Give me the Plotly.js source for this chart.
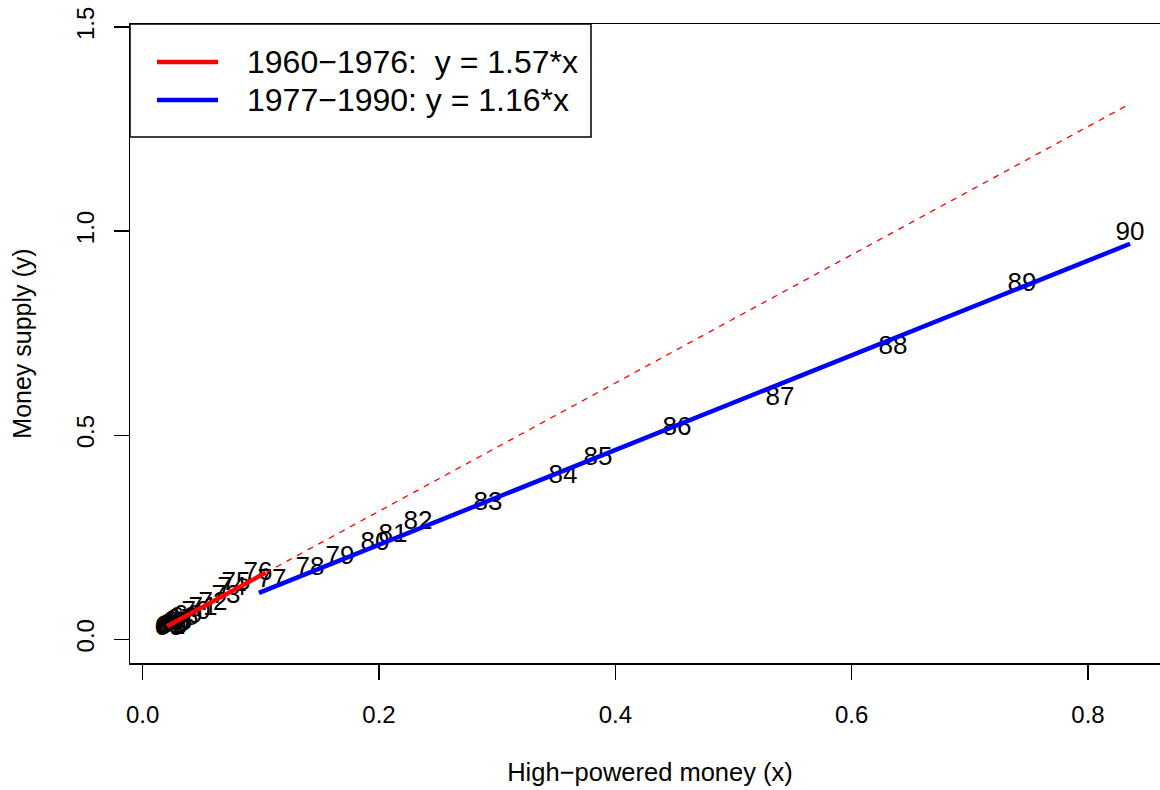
<!DOCTYPE html>
<html>
<head>
<meta charset="utf-8">
<script src="https://cdn.plot.ly/plotly-3.0.1.min.js"></script>
<style>
html,body{margin:0;padding:0;background:#fff;overflow:hidden;}
#chart{width:1170px;height:790px;}
</style>
</head>
<body>
<div id="chart"></div>
<script>
// Year labels (19xx)
const yearLabels = ['60','61','62','63','64','65','66','67','68','69','70','71','72','73','74','75','76','77','78','79','80','81','82','83','84','85','86','87','88','89','90'];
// High-powered money (x)
const highPowered = [0.0222,0.0231,0.0239,0.0248,0.0265,0.0282,0.0299,0.0324,0.0350,0.0383,0.0451,0.0510,0.0595,0.0705,0.0756,0.0790,0.0976,0.1094,0.1416,0.1670,0.1966,0.2118,0.2330,0.2922,0.3557,0.3853,0.4522,0.5394,0.6350,0.7442,0.8356];
// Money supply (y)
const moneySupply = [0.027,0.029,0.029,0.032,0.034,0.037,0.042,0.047,0.051,0.056,0.066,0.076,0.088,0.105,0.125,0.137,0.162,0.145,0.174,0.201,0.235,0.255,0.287,0.333,0.400,0.444,0.517,0.591,0.716,0.870,0.995];

// Fitted lines (endpoints)
const fit1960X = [0.0206, 0.104];
const fit1960Y = [0.032, 0.163];
const fit1977X = [0.0984, 0.8356];
const fit1977Y = [0.114, 0.969];
const ext1960X = [0.104, 0.8356];
const ext1960Y = [0.163, 1.312];

const legendTexts = ['1960\u22121976:\u00a0 y = 1.57*x', '1977\u22121990: y = 1.16*x'];
const legendColors = ['#ff0000', '#0000ff'];

const FONT = 'Liberation Sans, Arial, Helvetica, sans-serif';

const traces = [
  {x: highPowered, y: moneySupply, text: yearLabels, mode: 'text', type: 'scatter',
   textposition: 'middle center', textfont: {family: FONT, size: 26, color: '#000'},
   showlegend: false, hoverinfo: 'x+y+text', cliponaxis: false},
  {x: ext1960X, y: ext1960Y, mode: 'lines', type: 'scatter',
   line: {color: '#ff0000', width: 1.3, dash: '6px,6px'}, showlegend: false},
  {x: fit1960X, y: fit1960Y, mode: 'lines', type: 'scatter',
   line: {color: '#ff0000', width: 4.5}, showlegend: false},
  {x: fit1977X, y: fit1977Y, mode: 'lines', type: 'scatter',
   line: {color: '#0000ff', width: 4.5}, showlegend: false}
];

// plot area in px: left 130, top 24, width 1040, height 638.7
const L = 130, T = 24, W = 1040, H = 638.7;
const px = v => (v - L) / W;
const py = v => 1 - (v - T) / H;

const shapes = [
  {type: 'rect', xref: 'paper', yref: 'paper', x0: 0, x1: px(591), y0: py(137), y1: 1,
   line: {color: '#000', width: 1.5}, fillcolor: '#fff', layer: 'above'}
];
const annotations = [];
const rowsY = [62, 100];
legendTexts.forEach((t, i) => {
  shapes.push({type: 'line', xref: 'paper', yref: 'paper', x0: px(157), x1: px(218),
    y0: py(rowsY[i]), y1: py(rowsY[i]), line: {color: legendColors[i], width: 4.5}, layer: 'above'});
  annotations.push({xref: 'paper', yref: 'paper', x: px(245), y: py(rowsY[i]), text: t,
    showarrow: false, xanchor: 'left', yanchor: 'middle',
    font: {family: FONT, size: 32, color: '#000'}});
});

const layout = {
  width: 1170, height: 790,
  margin: {l: 130, r: 0, t: 24, b: 127.3, pad: 0},
  paper_bgcolor: '#fff', plot_bgcolor: '#fff',
  font: {family: FONT, color: '#000'},
  xaxis: {
    range: [-0.0107, 0.8694], tickvals: [0, 0.2, 0.4, 0.6, 0.8], ticktext: ['0.0','0.2','0.4','0.6','0.8'],
    showgrid: false, zeroline: false, showline: true, mirror: true, linecolor: '#000', linewidth: 1.5,
    ticks: 'outside', ticklen: 15, tickwidth: 1.3, tickcolor: '#000',
    tickfont: {family: FONT, size: 24, color: '#000'}, ticklabelstandoff: 15,
    title: {text: 'High\u2212powered money (x)', font: {family: FONT, size: 25.5, color: '#000'}, standoff: 36}
  },
  yaxis: {
    range: [-0.058, 1.5074], tickvals: [0, 0.5, 1, 1.5], ticktext: ['0.0','0.5','1.0','1.5'],
    showgrid: false, zeroline: false, showline: true, mirror: true, linecolor: '#000', linewidth: 1.5,
    ticks: 'outside', ticklen: 15, tickwidth: 1.3, tickcolor: '#000', tickangle: -90,
    tickfont: {family: FONT, size: 24, color: '#000'}, ticklabelstandoff: 10,
    title: {text: 'Money supply (y)', font: {family: FONT, size: 25, color: '#000'}, standoff: 33}
  },
  shapes: shapes,
  annotations: annotations,
  showlegend: false
};

Plotly.newPlot('chart', traces, layout, {displayModeBar: false, staticPlot: true});
</script>
</body>
</html>
